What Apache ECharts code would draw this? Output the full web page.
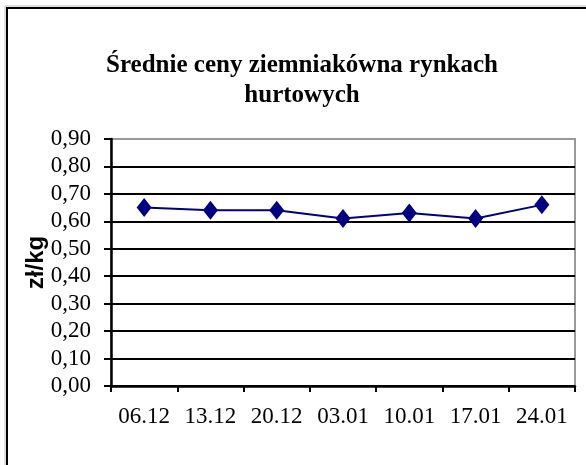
<!DOCTYPE html>
<html>
<head>
<meta charset="utf-8">
<script src="https://cdn.jsdelivr.net/npm/echarts@6/dist/echarts.min.js"></script>
<style>
  html, body { margin: 0; padding: 0; background: #fff; }
  #main { width: 586px; height: 465px; }
</style>
</head>
<body>
<div id="main"></div>
<script>
var weeks = ['06.12', '13.12', '20.12', '03.01', '10.01', '17.01', '24.01'];
var prices = [0.65, 0.64, 0.64, 0.61, 0.63, 0.61, 0.66];
var yTicks = [0, 0.1, 0.2, 0.3, 0.4, 0.5, 0.6, 0.7, 0.8, 0.9];

var chart = echarts.init(document.getElementById('main'));

// gridlines black, the top one (0,90) grey like the plot border
var splitColors = yTicks.map(function (v, i) {
    return i === yTicks.length - 1 ? '#999' : '#000';
});

var option = {
    backgroundColor: '#fff',
    animation: false,
    title: {
        text: 'Średnie ceny ziemniakówna rynkach\nhurtowych',
        left: 297,
        top: 46,
        textAlign: 'center',
        textStyle: {
            fontFamily: 'Liberation Serif',
            fontWeight: 'bold',
            fontSize: 25,
            lineHeight: 30,
            color: '#000'
        }
    },
    graphic: [
        {
            type: 'rect',
            shape: { x: 7, y: 8, width: 620, height: 520 },
            style: { fill: null, stroke: '#000', lineWidth: 2 }
        },
        {
            type: 'rect',
            shape: { x: 5, y: 6, width: 620, height: 520 },
            style: { fill: null, stroke: '#bbb', lineWidth: 1 }
        }
    ],
    grid: {
        left: 111,
        right: 11,
        top: 139,
        bottom: 79,
        show: true,
        borderColor: '#999',
        borderWidth: 2,
        containLabel: false
    },
    xAxis: {
        type: 'category',
        data: weeks,
        boundaryGap: true,
        axisLine: { lineStyle: { color: '#000', width: 2.5 } },
        axisTick: { show: true, interval: 0, length: 6, lineStyle: { color: '#000', width: 2 } },
        axisLabel: {
            interval: 0,
            margin: 19,
            fontFamily: 'Liberation Serif',
            fontSize: 23,
            color: '#000'
        },
        splitLine: { show: false }
    },
    yAxis: {
        type: 'value',
        min: 0,
        max: 0.9,
        interval: 0.1,
        name: 'zł/kg',
        nameLocation: 'middle',
        nameGap: 63,
        nameRotate: 90,
        nameMoveOverlap: false,
        nameTextStyle: {
            fontFamily: 'Liberation Sans',
            fontWeight: 'bold',
            fontSize: 24,
            color: '#000',
            padding: [8, 0, 0, 0]
        },
        axisLine: { show: true, lineStyle: { color: '#000', width: 2.5 } },
        axisTick: { show: true, length: 7, lineStyle: { color: '#000', width: 2 } },
        axisLabel: {
            margin: 20,
            fontFamily: 'Liberation Serif',
            fontSize: 23,
            color: '#000',
            formatter: function (v) { return v.toFixed(2).replace('.', ','); }
        },
        splitLine: { show: true, lineStyle: { color: splitColors, width: 2 } }
    },
    series: [
        {
            type: 'line',
            data: prices,
            symbol: 'diamond',
            symbolSize: [15, 19],
            itemStyle: { color: '#000080' },
            lineStyle: { color: '#000080', width: 2 }
        }
    ]
};
chart.setOption(option);
</script>
</body>
</html>
